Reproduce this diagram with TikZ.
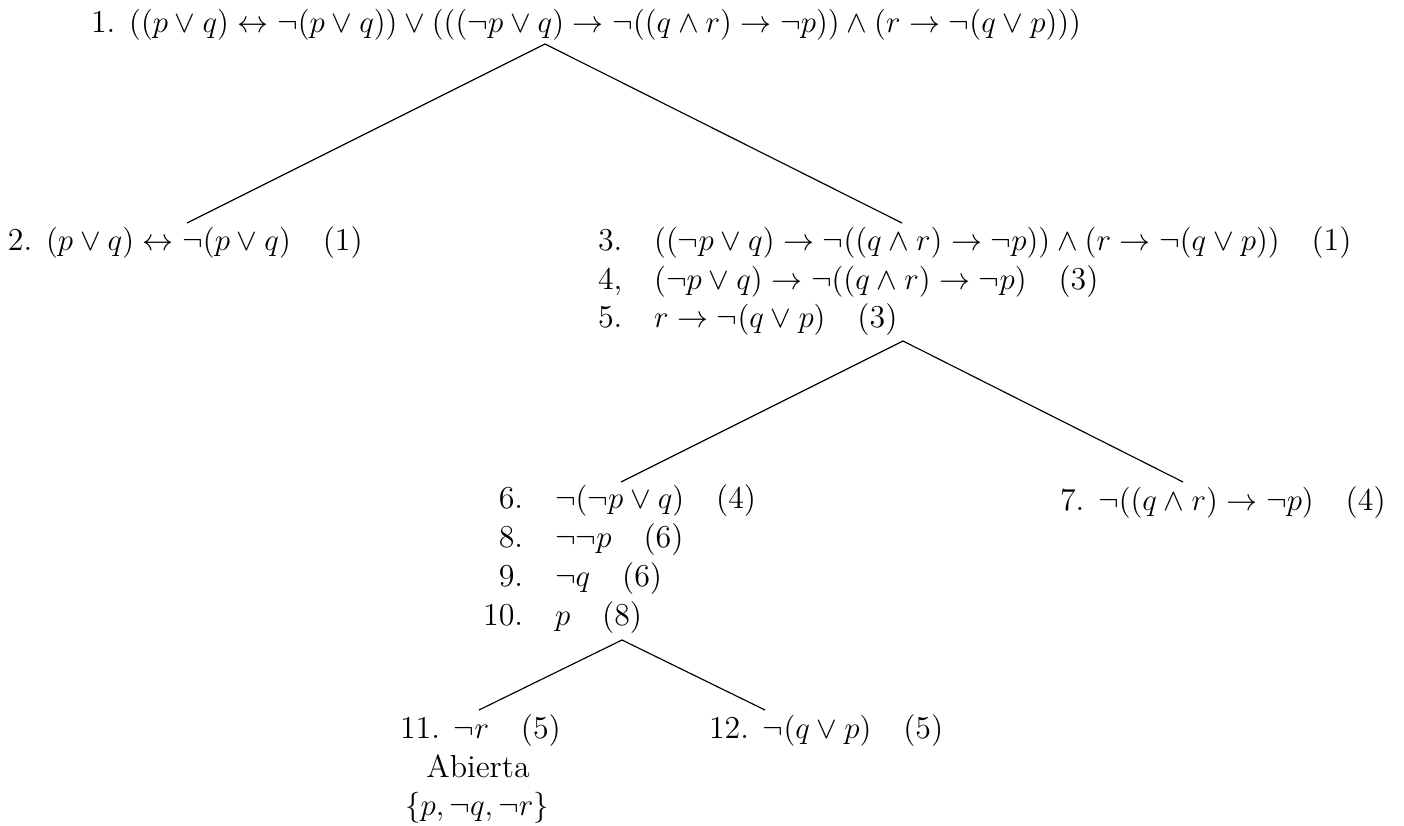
\documentclass[tikz,border=0pt]{standalone}
\usepackage{amsmath}
\begin{document}
\begin{tikzpicture}[x=0.387pt,y=-0.387pt,
  every node/.style={inner sep=0pt, outer sep=0pt, font=\fontsize{12.35}{14.8}\selectfont},
  row/.style={anchor=base west},
  branch/.style={line width=0.45pt}]
\useasboundingbox (0,0) rectangle (1404,826);
% rows
\node[anchor=base] (n1) at (586,33) {1. $((p\lor q)\leftrightarrow\neg(p\lor q))\lor(((\neg p\lor q)\to\neg((q\land r)\to\neg p))\land(r\to\neg(q\lor p)))$};
\node[row] (n2) at (8,251) {2. $(p\lor q)\leftrightarrow\neg(p\lor q)$\quad(1)};
\node[row] (n3) at (598,251) {3.\quad$((\neg p\lor q)\to\neg((q\land r)\to\neg p))\land(r\to\neg(q\lor p))$\quad(1)};
\node[row] (n4) at (598,290) {4,\quad$(\neg p\lor q)\to\neg((q\land r)\to\neg p)$\quad(3)};
\node[row] (n5) at (598,328) {5.\quad$r\to\neg(q\lor p)$\quad(3)};
\node[row] (n6) at (555,508) {\llap{6.\quad}$\neg(\neg p\lor q)$\quad(4)};
\node[row] (n7) at (1060,510) {7. $\neg((q\land r)\to\neg p)$\quad(4)};
\node[row] (n8) at (555,547) {\llap{8.\quad}$\neg\neg p$\quad(6)};
\node[row] (n9) at (555,586) {\llap{9.\quad}$\neg q$\quad(6)};
\node[row] (n10) at (555,625) {\llap{10.\quad}$p$\quad(8)};
\node[row] (n11) at (400,738) {11. $\neg r$\quad(5)};
\node[row] (n12) at (709,738) {12. $\neg(q\lor p)$\quad(5)};
\node[anchor=base] (ab) at (478,777) {Abierta};
\node[anchor=base] (set) at (477,815) {$\{p,\neg q,\neg r\}$};
% branch points
\coordinate (t1) at (545,44);
\coordinate (e2) at (187,223);
\coordinate (e3) at (902,223);
\coordinate (t5) at (903,341);
\coordinate (e6) at (621,482);
\coordinate (e7) at (1183,482);
\coordinate (t10) at (622,640);
\coordinate (e11) at (479,710);
\coordinate (e12) at (765,710);
\draw[branch] (e2) -- (t1) -- (e3);
\draw[branch] (e6) -- (t5) -- (e7);
\draw[branch] (e11) -- (t10) -- (e12);
\end{tikzpicture}
\end{document}
